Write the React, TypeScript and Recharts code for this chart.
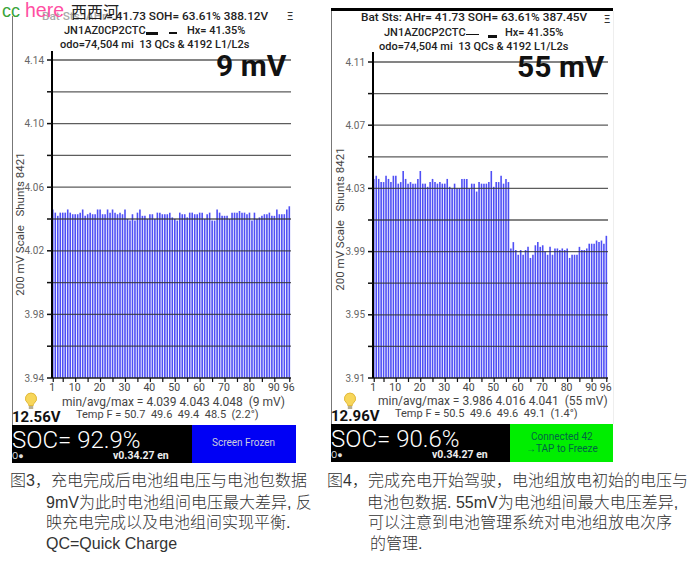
import React from "react";
import { BarChart, Bar, XAxis, YAxis, ReferenceLine } from "recharts";

const cells = Array.from({ length: 96 }, (_, i) => i + 1);
const xTicks = [1, 5, 10, 15, 20, 25, 30, 35, 40, 45, 50, 55, 60, 65, 70, 75, 80, 85, 90, 96];
const xLabels = [1, 10, 20, 30, 40, 50, 60, 70, 80, 90, 96];

const leftVolts = [
  4.046,4.044,4.042,4.044,4.044,4.044,4.046,4.044,4.043,4.043,
  4.043,4.044,4.046,4.042,4.043,4.044,4.043,4.043,4.046,4.046,
  4.043,4.043,4.046,4.044,4.046,4.044,4.043,4.044,4.043,4.046,
  4.040,4.039,4.043,4.039,4.044,4.046,4.042,4.042,4.040,4.043,
  4.043,4.040,4.044,4.044,4.043,4.043,4.043,4.044,4.041,4.040,
  4.039,4.044,4.043,4.043,4.041,4.044,4.044,4.043,4.043,4.044,
  4.044,4.040,4.043,4.044,4.039,4.039,4.046,4.044,4.042,4.042,
  4.042,4.040,4.044,4.044,4.044,4.045,4.044,4.044,4.043,4.044,
  4.039,4.044,4.040,4.041,4.042,4.043,4.043,4.044,4.042,4.042,
  4.046,4.043,4.043,4.043,4.046,4.048,
];
const rightVolts = [
  4.036,4.038,4.036,4.034,4.034,4.038,4.036,4.034,4.038,4.038,
  4.033,4.034,4.041,4.036,4.033,4.034,4.033,4.033,4.036,4.041,
  4.033,4.033,4.031,4.034,4.036,4.034,4.033,4.034,4.033,4.033,
  4.036,4.031,4.030,4.033,4.030,4.030,4.036,4.036,4.036,4.030,
  4.033,4.033,4.028,4.034,4.033,4.033,4.033,4.034,4.041,4.031,
  4.034,4.034,4.038,4.033,4.036,4.034,3.992,3.996,3.991,3.988,
  3.991,3.988,3.991,3.993,3.986,3.988,3.994,3.996,3.993,3.994,
  3.990,3.988,3.993,3.988,3.992,3.992,3.991,3.992,3.991,3.992,
  3.986,3.988,3.988,3.988,3.993,3.991,3.991,3.992,3.995,3.995,
  3.995,3.997,3.996,3.997,3.995,4.000,
];

const leftTicks = [3.94,3.96,3.98,4.0,4.02,4.04,4.06,4.08,4.1,4.12,4.14];
const leftLabels = [3.94,3.98,4.02,4.06,4.1,4.14];
const rightTicks = [3.91,3.93,3.95,3.97,3.99,4.01,4.03,4.05,4.07,4.09,4.11];
const rightLabels = [3.91,3.95,3.99,4.03,4.07,4.11];

const ROBOTO = "Roboto, sans-serif";
const CJK = '"Liberation Sans", "Noto Sans CJK SC", sans-serif';

function T({ x, y, size, weight = 400, color = "#222", font = ROBOTO, children }: any) {
  return (
    <div style={{ position: "absolute", left: x, top: y, transform: "translateY(-50%)", fontSize: size, fontWeight: weight, color, fontFamily: font, whiteSpace: "pre", lineHeight: 1 }}>
      {children}
    </div>
  );
}

function Box({ x, y, w, h, c }: any) {
  return <div style={{ position: "absolute", left: x, top: y, width: w, height: h, background: c }} />;
}

function Bulb({ x, y }: any) {
  return (
    <svg style={{ position: "absolute", left: x, top: y }} width="14" height="18" viewBox="0 0 14 18">
      <path d="M7 1a5.6 5.6 0 0 0-3.3 10.1c.8.7 1 1.4 1 2.4h4.6c0-1 .2-1.7 1-2.4A5.6 5.6 0 0 0 7 1z" fill="#f7d65a" stroke="#e2b93a" />
      <rect x="4.8" y="14" width="4.4" height="3" fill="#b9b090" />
    </svg>
  );
}

function Panel({ left, volts, yTicks, yLabels, yMin, yMax, axisW, right, top }: any) {
  const data = cells.map((c, i) => ({ cell: c, v: volts[i] }));
  return (
    <div style={{ position: "absolute", left, top: 0 }}>
      <BarChart width={300} height={400} data={data} margin={{ top, bottom: 0, left: 0, right }} barCategoryGap={0}>
        <XAxis
          dataKey="cell"
          ticks={xTicks}
          interval={0}
          tickSize={4}
          tickMargin={2}
          height={22}
          axisLine={{ stroke: "#222", strokeWidth: 1 }}
          tickLine={{ stroke: "#111", strokeWidth: 1.2 }}
          tick={{ fontSize: 10.5, fill: "#444", fontFamily: ROBOTO, dx: -1 }}
          tickFormatter={(t: number) => (xLabels.includes(t) ? String(t) : "")}
        />
        <YAxis
          width={axisW}
          type="number"
          domain={[yMin, yMax]}
          ticks={yTicks}
          interval={0}
          allowDataOverflow
          tickSize={5}
          tickMargin={3}
          axisLine={{ stroke: "#000", strokeWidth: 2 }}
          tickLine={{ stroke: "#111", strokeWidth: 1.5 }}
          tick={{ fontSize: 10, fill: "#666", fontFamily: ROBOTO }}
          tickFormatter={(t: number) => (yLabels.includes(t) ? t.toFixed(2) : "")}
        />
        <Bar dataKey="v" fill="#4f4ff5" barSize={1.6} isAnimationActive={false} />
        {yTicks.map((t: number) => (
          <ReferenceLine key={t} y={t} stroke="#333" strokeOpacity={0.8} strokeWidth={1.3} />
        ))}
      </BarChart>
    </div>
  );
}

export default function App() {
  return (
    <div style={{ position: "absolute", left: 0, top: 0, width: 695, height: 564, background: "#fff", overflow: "hidden" }}>
      {/* frames */}
      <Box x={12} y={16} w={1} h={409} c="#777" />
      <Box x={331} y={11} w={1} h={413} c="#777" />
      <Box x={331} y={8} w={282} h={3} c="#000" />
      <Box x={613} y={11} w={1} h={413} c="#eee" />

      <Panel left={0} volts={leftVolts} yTicks={leftTicks} yLabels={leftLabels} yMin={3.94} yMax={4.14} axisW={52} right={9} top={60} />
      <Panel left={320} volts={rightVolts} yTicks={rightTicks} yLabels={rightLabels} yMin={3.91} yMax={4.11} axisW={53} right={12} top={62} />

      {/* axis stubs above top gridline */}
      <Box x={51} y={51} w={2} h={10} c="#000" />
      <Box x={372} y={52} w={2} h={11} c="#000" />

      {/* left header */}
      <T x={42} y={17} size={11.8} weight={500}><span style={{ color: "#aaa" }}>Bat Sts: AHr</span>= 41.73 SOH= 63.61% 388.12V</T>
      <T x={64} y={30} size={11} weight={500}>JN1AZ0CP2CTC</T>
      <Box x={146} y={32} w={12} h={3} c="#111" />
      <Box x={169} y={32} w={8} h={2} c="#111" />
      <T x={187} y={30} size={11} weight={500}>Hx= 41.35%</T>
      <T x={60} y={44} size={11} weight={500}>odo=74,504 mi  13 QCs &amp; 4192 L1/L2s</T>
      <T x={287} y={16} size={11} weight={500} color="#333">Ξ</T>

      {/* right header */}
      <T x={361} y={18} size={11.8} weight={500}>Bat Sts: AHr= 41.73 SOH= 63.61% 387.45V</T>
      <T x={384} y={32} size={11} weight={500}>JN1AZ0CP2CTC</T>
      <Box x={466} y={34} w={13} h={1} c="#111" />
      <Box x={488} y={35} w={9} h={3} c="#111" />
      <T x={505} y={32} size={11} weight={500}>Hx= 41.35%</T>
      <T x={379} y={46} size={11} weight={500}>odo=74,504 mi  13 QCs &amp; 4192 L1/L2s</T>
      <T x={604} y={19} size={11} weight={500} color="#333">Ξ</T>

      {/* watermark */}
      <T x={2} y={11} size={18} color="#3aa53a" font="'Liberation Sans', sans-serif">cc</T>
      <T x={25} y={11} size={19.5} color="#ff4fa3" font="'Liberation Sans', sans-serif">here</T>
      <T x={71} y={11} size={16} color="#222" font="'Noto Sans CJK SC', serif">西西河</T>

      {/* big labels */}
      <T x={216} y={66} size={30} weight={700} color="#111">9 mV</T>
      <T x={517} y={67} size={30} weight={700} color="#111">55 mV</T>

      {/* rotated labels */}
      <div style={{ position: "absolute", left: 20, top: 224, transform: "translate(-50%,-50%) rotate(-90deg)", fontFamily: ROBOTO, fontSize: 11.5, color: "#444", whiteSpace: "pre" }}>200 mV Scale   Shunts 8421</div>
      <div style={{ position: "absolute", left: 340, top: 219, transform: "translate(-50%,-50%) rotate(-90deg)", fontFamily: ROBOTO, fontSize: 11.5, color: "#444", whiteSpace: "pre" }}>200 mV Scale   Shunts 8421</div>

      {/* stats */}
      <Bulb x={24} y={392} />
      <Bulb x={343} y={392} />
      <T x={12} y={417} size={15} weight={700} color="#111">12.56V</T>
      <T x={331} y={416} size={15} weight={700} color="#111">12.96V</T>
      <T x={62} y={402} size={12} color="#444">min/avg/max = 4.039 4.043 4.048  (9 mV)</T>
      <T x={76} y={414} size={11} color="#444">Temp F = 50.7  49.6  49.4  48.5  (2.2°)</T>
      <T x={378} y={401} size={12} color="#444">min/avg/max = 3.986 4.016 4.041  (55 mV)</T>
      <T x={395} y={413} size={11} color="#444">Temp F = 50.5  49.6  49.6  49.1  (1.4°)</T>

      {/* bottom bars */}
      <Box x={12} y={425} w={180} h={38} c="#000" />
      <Box x={192} y={425} w={104} h={38} c="#0000f5" />
      <Box x={331} y={424} w={179} h={38} c="#000" />
      <Box x={510} y={424} w={103} h={38} c="#00ee00" />
      <T x={12} y={440} size={24} weight={300} color="#fff">SOC= 92.9%</T>
      <T x={12} y={456} size={9} color="#ddd">O●</T>
      <T x={113} y={456} size={10.5} weight={700} color="#eee">v0.34.27 en</T>
      <T x={212} y={443} size={10} color="#ccd">Screen Frozen</T>
      <T x={331} y={439} size={24} weight={300} color="#fff">SOC= 90.6%</T>
      <T x={331} y={455} size={9} color="#ddd">O●</T>
      <T x={432} y={455} size={10.5} weight={700} color="#eee">v0.34.27 en</T>
      <T x={531} y={437} size={10} color="#064">Connected 42</T>
      <T x={526} y={449} size={10} color="#064">→TAP to Freeze</T>

      {/* captions */}
      <T x={10} y={481} size={16} weight={300} color="#333" font={CJK}>图3，充电完成后电池组电压与电池包数据</T>
      <T x={46} y={503} size={16} weight={300} color="#333" font={CJK}>9mV为此时电池组间电压最大差异, 反</T>
      <T x={46} y={523} size={16} weight={300} color="#333" font={CJK}>映充电完成以及电池组间实现平衡.</T>
      <T x={46} y={544} size={16} weight={300} color="#333" font={CJK}>QC=Quick Charge</T>
      <T x={327} y={481} size={16} weight={300} color="#333" font={CJK}>图4，完成充电开始驾驶，电池组放电初始的电压与</T>
      <T x={367} y={503} size={16} weight={300} color="#333" font={CJK}>电池包数据. 55mV为电池组间最大电压差异,</T>
      <T x={368} y={523} size={16} weight={300} color="#333" font={CJK}>可以注意到电池管理系统对电池组放电次序</T>
      <T x={370} y={544} size={16} weight={300} color="#333" font={CJK}>的管理.</T>
    </div>
  );
}
